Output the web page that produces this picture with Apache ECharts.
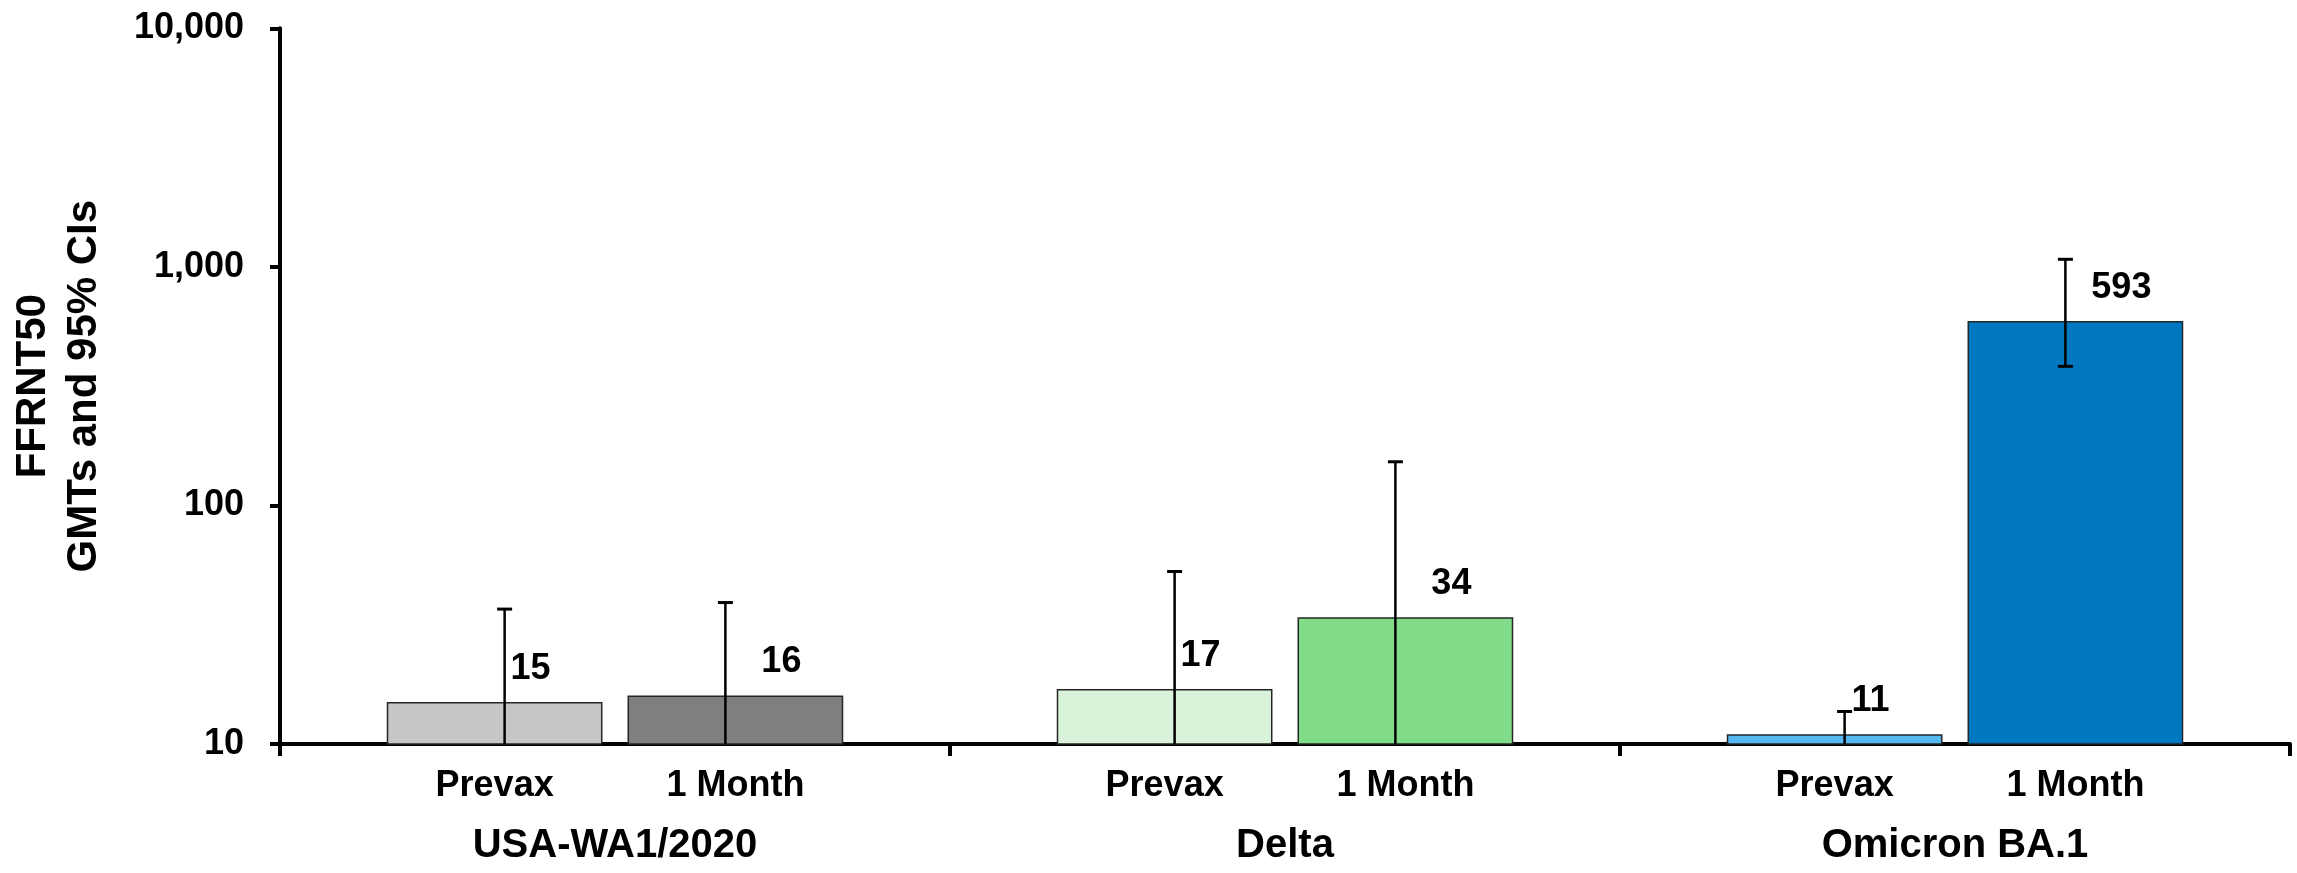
<!DOCTYPE html>
<html>
<head>
<meta charset="utf-8">
<title>FFRNT50 GMTs and 95% CIs</title>
<script src="https://cdn.jsdelivr.net/npm/echarts@6/dist/echarts.min.js"></script>
<style>
  html, body { margin: 0; padding: 0; background: #fff; }
  #chart { width: 2297px; height: 873px; }
</style>
</head>
<body>
<div id="chart"></div>
<script>
// Variants (x-axis groups) and sampling time points (bars within a group)
const groups = ['USA-WA1/2020', 'Delta', 'Omicron BA.1'];
const timepoints = ['Prevax', '1 Month'];

// Geometric mean titers
const prevaxGMT = [15, 17, 11];
const monthGMT = [16, 34, 593];

// 95% confidence limits (null = lower limit falls below the axis floor)
const prevaxUpper = [36.8, 52.9, 13.7];
const prevaxLower = [null, null, null];
const monthUpper = [39.2, 152.5, 1076];
const monthLower = [null, null, 383];

// Y-axis range and tick labels
const yMin = 10;
const yMax = 10000;
const yTickLabels = ['10', '100', '1,000', '10,000'];

// Fill colours per variant
const prevaxColors = ['#c6c6c6', '#d8f3da', '#55b7ef'];
const monthColors = ['#7f7f7f', '#80dc88', '#0077c1'];

const FONT = '"Liberation Sans", Arial, sans-serif';
const NARROW = '"Liberation Sans Narrow", "Arial Narrow", "Liberation Sans", sans-serif';
const BAR_FRACTION = 0.322;   // bar width as share of the category band
const GAP_FRACTION = 0.116;   // gap between paired bars as share of bar width
const WHISKER_SHIFT = 10;

const chart = echarts.init(document.getElementById('chart'), null, { renderer: 'canvas' });

function barData(values, colors) {
  return values.map((v, i) => ({ value: v, itemStyle: { color: colors[i] } }));
}

// Error bar rows: [categoryIndex, upper, lower, timepointIndex]
const errorRows = [];
groups.forEach((g, i) => {
  errorRows.push([i, prevaxUpper[i], prevaxLower[i] == null ? '-' : prevaxLower[i], 0]);
  errorRows.push([i, monthUpper[i], monthLower[i] == null ? '-' : monthLower[i], 1]);
});

const labelStyle = {
  show: true,
  position: 'top',
  distance: 15,
  fontSize: 36,
  lineHeight: 36,
  fontWeight: 'bold',
  fontFamily: FONT,
  color: '#000'
};

function renderErrorBar(params, api) {
  const cat = api.value(0);
  const upper = api.value(1);
  const lower = api.value(2);
  const tp = api.value(3);
  const band = api.size([1, 0])[0];
  const bw = band * BAR_FRACTION;
  const gap = bw * GAP_FRACTION;
  const centre = api.coord([cat, yMin]);
  const off = (bw + gap) / 2;
  const barX = centre[0] + (tp === 0 ? -off : off);
  const x = barX + (tp === 0 ? WHISKER_SHIFT : -WHISKER_SHIFT);
  const yTop = api.coord([cat, upper])[1];
  const hasLower = !isNaN(lower);
  const yBot = hasLower ? api.coord([cat, lower])[1] : centre[1];
  const stroke = { stroke: '#000', lineWidth: 2.5 };
  const capHalf = 7.5;
  const children = [
    { type: 'line', shape: { x1: x, y1: yTop, x2: x, y2: yBot }, style: stroke },
    { type: 'line', shape: { x1: x - capHalf, y1: yTop, x2: x + capHalf, y2: yTop }, style: { stroke: '#000', lineWidth: 3 } }
  ];
  if (hasLower) {
    children.push({ type: 'line', shape: { x1: x - capHalf, y1: yBot, x2: x + capHalf, y2: yBot }, style: { stroke: '#000', lineWidth: 3 } });
  }
  // time point label under each bar
  children.push({
    type: 'text',
    style: {
      text: timepoints[tp],
      x: barX,
      y: centre[1] + 42,
      align: 'center',
      verticalAlign: 'middle',
      font: 'bold 36px ' + FONT,
      fill: '#000'
    }
  });
  return { type: 'group', children: children };
}

const option = {
  backgroundColor: '#ffffff',
  animation: false,
  grid: { left: 275, right: 7, top: 28.3, bottom: 128.9, containLabel: false },
  xAxis: {
    type: 'category',
    data: groups,
    axisLine: { show: true, lineStyle: { color: '#000', width: 4 } },
    axisTick: { show: true, length: 12, lineStyle: { color: '#000', width: 4 } },
    axisLabel: {
      margin: 82,
      fontSize: 40,
      lineHeight: 40,
      fontWeight: 'bold',
      fontFamily: FONT,
      color: '#000'
    },
    splitLine: { show: false }
  },
  yAxis: {
    type: 'log',
    logBase: 10,
    min: yMin,
    max: yMax,
    name: 'FFRNT50\nGMTs and 95% CIs',
    nameLocation: 'middle',
    nameRotate: 90,
    nameGap: 170,
    nameTextStyle: {
      fontSize: 42,
      lineHeight: 51,
      fontWeight: 'bold',
      fontFamily: NARROW,
      color: '#000'
    },
    axisLine: { show: true, lineStyle: { color: '#000', width: 4 } },
    axisTick: { show: true, length: 10, lineStyle: { color: '#000', width: 4 } },
    minorTick: { show: false },
    splitLine: { show: false },
    axisLabel: {
      margin: 36,
      fontSize: 36,
      fontWeight: 'bold',
      fontFamily: FONT,
      color: '#000',
      formatter: function (v) {
        const idx = Math.round(Math.log10(v / yMin));
        return yTickLabels[idx] != null ? yTickLabels[idx] : '';
      }
    }
  },
  series: [
    {
      name: timepoints[0],
      type: 'bar',
      data: barData(prevaxGMT, prevaxColors),
      barWidth: (BAR_FRACTION * 100) + '%',
      barGap: (GAP_FRACTION * 100) + '%',
      itemStyle: { borderColor: '#262626', borderWidth: 1.5 },
      label: Object.assign({}, labelStyle, { offset: [36, 0] }),
      z: 2
    },
    {
      name: timepoints[1],
      type: 'bar',
      data: barData(monthGMT, monthColors),
      barWidth: (BAR_FRACTION * 100) + '%',
      barGap: (GAP_FRACTION * 100) + '%',
      itemStyle: { borderColor: '#262626', borderWidth: 1.5 },
      label: Object.assign({}, labelStyle, { offset: [46, 0] }),
      z: 2
    },
    {
      name: '95% CI',
      type: 'custom',
      renderItem: renderErrorBar,
      data: errorRows,
      encode: { x: 0, y: 1 },
      clip: false,
      z: 5
    }
  ]
};

chart.setOption(option);
</script>
</body>
</html>
